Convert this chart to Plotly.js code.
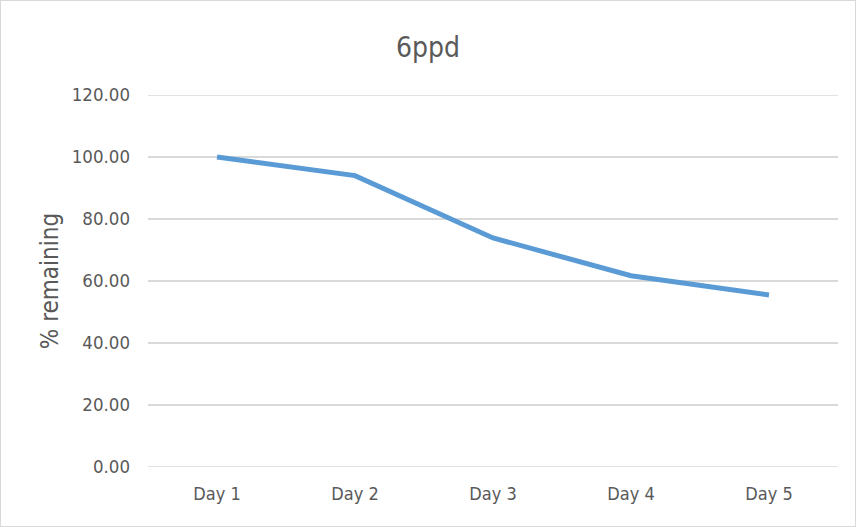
<!DOCTYPE html>
<html><head><meta charset="utf-8">
<script src="https://cdn.plot.ly/plotly-3.0.1.min.js"></script>
<style>
html,body{margin:0;padding:0;background:#fff;}
#chart{width:856px;height:527px;box-sizing:border-box;border:1px solid #d9d9d9;}
</style></head>
<body><div id="chart"></div>
<script>
const categories = ["Day 1","Day 2","Day 3","Day 4","Day 5"];
const remaining = [100.0, 94.0, 73.9, 61.7, 55.5];
const yTicks = [0,20,40,60,80,100,120];
const yTickLabels = ["0.00","20.00","40.00","60.00","80.00","100.00","120.00"];

const font = '"DejaVu Sans Condensed", "Liberation Sans Narrow", Roboto, sans-serif';
Plotly.newPlot('chart', [{
  x: categories, y: remaining, type: 'scatter', mode: 'lines',
  line: {color: '#5B9BD5', width: 5}, hoverinfo: 'skip'
}], {
  width: 854, height: 525,
  margin: {l: 147, r: 17, t: 94, b: 59},
  paper_bgcolor: '#fff', plot_bgcolor: '#fff',
  showlegend: false,
  title: {text: '6ppd', x: 0.5, xanchor: 'center', y: 0.912, yanchor: 'middle',
          font: {family: font, size: 28, color: '#595959'}},
  xaxis: {type: 'category', range: [-0.5, 4.5], showgrid: false, zeroline: false,
          showline: false, ticks: '', tickfont: {family: font, size: 18, color: '#595959'},
          ticklabelstandoff: 14},
  yaxis: {range: [0, 120], tickvals: yTicks, ticktext: yTickLabels,
          showgrid: true, gridcolor: '#d9d9d9', gridwidth: 1.3, zeroline: false,
          showline: false, ticks: '', tickfont: {family: font, size: 18.5, color: '#595959'},
          ticklabelstandoff: 17,
          title: {text: '% remaining', standoff: 6, font: {family: font, size: 24, color: '#595959'}}},
  shapes: [0, 120].map(v => ({type: 'line', xref: 'paper', yref: 'y', x0: 0, x1: 1, y0: v, y1: v,
            line: {color: '#d9d9d9', width: 1.3}, layer: 'below'}))
}, {displayModeBar: false, staticPlot: true});
</script></body></html>
